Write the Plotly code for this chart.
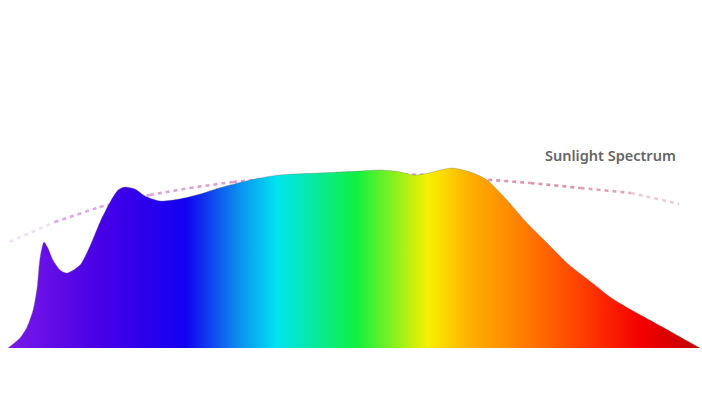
import plotly.graph_objects as go

# LED spectrum (wavelength nm, relative intensity)
wavelength = [380, 386.9, 391, 394.5, 396.8, 398.5, 400.8, 403.1, 406, 410.1, 414.1, 421.6,
              427.4, 433.2, 439, 443.6, 447.6, 453.4, 459.2, 467.9, 479, 491, 502, 520,
              537, 560, 583, 595, 607, 614, 621, 630, 637.2, 648.8, 656.9, 668.4, 680,
              691.6, 703.1, 711.8, 719.3, 728, 739.5, 751, 765.5, 780]
intensity = [0, 5.6, 11.8, 21.3, 33.7, 50.6, 59.6, 56.2, 49.4, 43.8, 42.1, 46.6,
             57.3, 70.8, 82.0, 88.8, 90.4, 89.3, 85.4, 82.6, 83.7, 86.5, 89.9, 94.4,
             97.2, 98.3, 99.4, 100.0, 98.9, 97.2, 97.8, 100.0, 101.1, 98.3, 94.4, 83.1, 70.2,
             59.0, 47.8, 41.0, 35.4, 28.7, 21.9, 15.7, 7.9, 0]

# Sunlight reference curve
sun_wavelength = [381, 407, 433, 462, 485, 510, 549, 595, 624, 653, 682, 711, 740, 768]
sun_intensity = [59.6, 70.8, 79.2, 86.0, 89.9, 93.3, 96.6, 97.8, 97.2, 94.9, 92.7, 89.9, 87.1, 80.9]

label = "Sunlight Spectrum"

fig = go.Figure()

# dotted sunlight curve, drawn segment by segment to fade the ends
n = len(sun_wavelength) - 1
for i in range(n):
    t = i / (n - 1)
    r = int(216 + (214 - 216) * t)
    g = int(160 + (130 - 160) * t)
    b = int(232 + (150 - 232) * t)
    if i == 0:
        a = 0.35
    elif i == n - 1:
        a = 0.4
    elif i == n - 2:
        a = 0.75
    else:
        a = 0.9
    fig.add_trace(go.Scatter(
        x=sun_wavelength[i:i + 2], y=sun_intensity[i:i + 2], mode="lines",
        line=dict(color=f"rgba({r},{g},{b},{a})", width=2.6, dash="4px,4px"),
        hoverinfo="skip", showlegend=False))

colorscale = [
    [0.0, "#7a1ae8"],
    [0.133, "#4800e6"],
    [0.256, "#1200f0"],
    [0.332, "#0d8cf0"],
    [0.389, "#00e4f0"],
    [0.504, "#10f040"],
    [0.607, "#f8f000"],
    [0.668, "#fcb000"],
    [0.74, "#ff8000"],
    [0.827, "#ff4000"],
    [0.913, "#f40000"],
    [1.0, "#c00000"],
]

fig.add_trace(go.Scatter(
    x=wavelength, y=intensity, mode="lines",
    line=dict(color="rgba(120,120,120,0.45)", width=0.8, shape="spline", smoothing=0.7),
    fill="tozeroy",
    fillgradient=dict(type="horizontal", colorscale=colorscale),
    hoverinfo="skip", showlegend=False))

fig.add_annotation(x=689, y=108.4, xref="x", yref="y", text=label, showarrow=False,
                   xanchor="left", yanchor="middle",
                   font=dict(family="Noto Sans", size=14.5, color="#666666", weight=600))

fig.update_layout(
    width=702, height=395,
    margin=dict(l=8, r=2, t=10, b=47),
    paper_bgcolor="white", plot_bgcolor="white",
    xaxis=dict(range=[380, 780], visible=False, fixedrange=True),
    yaxis=dict(range=[0, 189.9], visible=False, fixedrange=True),
)

fig.write_html("out.html")
